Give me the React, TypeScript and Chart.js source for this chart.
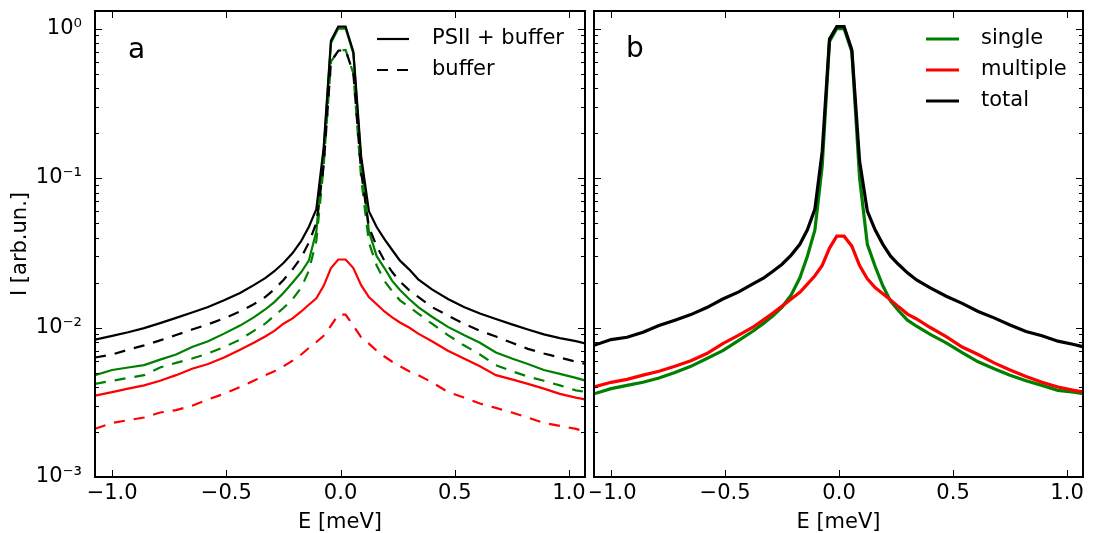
import React, { useEffect, useRef } from 'react';
import { Chart, registerables } from 'chart.js';

Chart.register(...registerables);

// ---------------- data ----------------
const E = [-1.075, -1.0, -0.93, -0.86, -0.79, -0.72, -0.65, -0.58, -0.51, -0.44, -0.38, -0.33, -0.29, -0.25, -0.21, -0.172, -0.139, -0.106, -0.074, -0.042, -0.010, 0.022, 0.056, 0.090, 0.124, 0.158, 0.192, 0.226, 0.26, 0.30, 0.34, 0.40, 0.47, 0.54, 0.61, 0.68, 0.75, 0.82, 0.89, 0.96, 1.03, 1.075];

// panel a
const aPsiiBuffer = [0.0083, 0.0088, 0.0093, 0.0099, 0.0107, 0.0116, 0.0126, 0.0137, 0.0152, 0.0170, 0.0192, 0.0214, 0.0238, 0.0270, 0.0315, 0.0380, 0.047, 0.062, 0.16, 0.83, 1.03, 1.03, 0.70, 0.14, 0.060, 0.047, 0.039, 0.033, 0.028, 0.0245, 0.0210, 0.0180, 0.0155, 0.0137, 0.0124, 0.0114, 0.0105, 0.0097, 0.0090, 0.0085, 0.0081, 0.0078];
const aBuffer = [0.0063, 0.0066, 0.0071, 0.0076, 0.0082, 0.0089, 0.0097, 0.0105, 0.0115, 0.0128, 0.0143, 0.0160, 0.0180, 0.0208, 0.0245, 0.0295, 0.037, 0.050, 0.12, 0.60, 0.71, 0.72, 0.50, 0.11, 0.047, 0.035, 0.028, 0.0235, 0.0203, 0.0178, 0.0160, 0.0137, 0.0120, 0.0106, 0.0095, 0.0087, 0.0079, 0.0072, 0.0067, 0.0063, 0.0059, 0.0057];
const aSingleSample = [0.0048, 0.0052, 0.0054, 0.0056, 0.0061, 0.0066, 0.0074, 0.0081, 0.0091, 0.0103, 0.0117, 0.0132, 0.0148, 0.0170, 0.0200, 0.0235, 0.028, 0.044, 0.15, 0.80, 1.0, 1.0, 0.68, 0.13, 0.044, 0.030, 0.025, 0.0205, 0.0178, 0.0155, 0.0137, 0.0118, 0.0101, 0.0089, 0.0079, 0.0068, 0.0062, 0.0057, 0.0052, 0.0049, 0.0046, 0.0044];
const aSingleBuffer = [0.0042, 0.0044, 0.0046, 0.0048, 0.0054, 0.0058, 0.0062, 0.0067, 0.0074, 0.0083, 0.0095, 0.0106, 0.0120, 0.0135, 0.0155, 0.0185, 0.024, 0.038, 0.12, 0.60, 0.71, 0.72, 0.50, 0.10, 0.037, 0.026, 0.0205, 0.0175, 0.0152, 0.0137, 0.0124, 0.0106, 0.0089, 0.0076, 0.0066, 0.0056, 0.0051, 0.0047, 0.0044, 0.0041, 0.0038, 0.0037];
const aMultipleSample = [0.0035, 0.0037, 0.0039, 0.0041, 0.0044, 0.0048, 0.0053, 0.0057, 0.0063, 0.0071, 0.0079, 0.0087, 0.0095, 0.0106, 0.0115, 0.0128, 0.0142, 0.0157, 0.0190, 0.0250, 0.0285, 0.0285, 0.0250, 0.0192, 0.0160, 0.0143, 0.0128, 0.0117, 0.0108, 0.0100, 0.0091, 0.0081, 0.0070, 0.0062, 0.0055, 0.0048, 0.0045, 0.0042, 0.0039, 0.0036, 0.0034, 0.0033];
const aMultipleBuffer = [0.0021, 0.0023, 0.0024, 0.0025, 0.0027, 0.0028, 0.0030, 0.0033, 0.0036, 0.0040, 0.0044, 0.0048, 0.0051, 0.0055, 0.0060, 0.0066, 0.0073, 0.0080, 0.0088, 0.0103, 0.0122, 0.0122, 0.0103, 0.0086, 0.0078, 0.0070, 0.0064, 0.0059, 0.0055, 0.0051, 0.0048, 0.0043, 0.0037, 0.0034, 0.0031, 0.0029, 0.0027, 0.0025, 0.0023, 0.0022, 0.0021, 0.0020];

// panel b
const bTotal = [0.0076, 0.0083, 0.0086, 0.0093, 0.0103, 0.0112, 0.0122, 0.0136, 0.0155, 0.0173, 0.0195, 0.0215, 0.0238, 0.0265, 0.0305, 0.0360, 0.045, 0.062, 0.15, 0.85, 1.03, 1.03, 0.72, 0.13, 0.060, 0.045, 0.036, 0.030, 0.0265, 0.0232, 0.0208, 0.0184, 0.0162, 0.0145, 0.0128, 0.0116, 0.0104, 0.0094, 0.0088, 0.0081, 0.0077, 0.0074];
const bSingle = [0.0036, 0.0039, 0.0041, 0.0043, 0.0046, 0.0050, 0.0055, 0.0062, 0.0070, 0.0082, 0.0094, 0.0107, 0.0120, 0.0137, 0.0165, 0.0215, 0.030, 0.045, 0.12, 0.82, 1.0, 1.0, 0.70, 0.10, 0.036, 0.0257, 0.0190, 0.0150, 0.0130, 0.0112, 0.0102, 0.0090, 0.0079, 0.0068, 0.0059, 0.0053, 0.0048, 0.0044, 0.0041, 0.0038, 0.0037, 0.0036];
const bMultiple = [0.0040, 0.0043, 0.0045, 0.0048, 0.0051, 0.0055, 0.0060, 0.0067, 0.0078, 0.0089, 0.0100, 0.0113, 0.0125, 0.0139, 0.0155, 0.0172, 0.0195, 0.0222, 0.026, 0.034, 0.0408, 0.0408, 0.035, 0.026, 0.0212, 0.0185, 0.0168, 0.0153, 0.0138, 0.0123, 0.0114, 0.0100, 0.0087, 0.0074, 0.0066, 0.0058, 0.0052, 0.0047, 0.0043, 0.0040, 0.0038, 0.0037];

const X_TICKS = [-1.0, -0.5, 0.0, 0.5, 1.0];
const Y_TICKS = [0.001, 0.01, 0.1, 1];
const Y_TICK_LABELS = ['10⁻³', '10⁻²', '10⁻¹', '10⁰'];
const X_MIN = -1.075;
const X_MAX = 1.07;
const Y_MIN = 0.001;
const Y_MAX = 1.31;

// ---------------- style ----------------
const FONT = "'DejaVu Sans', 'Liberation Sans', sans-serif";
const FS = 21;
const BLACK = '#000000';
const GREEN = '#008000';
const RED = '#ff0000';
const DASH = [11, 9];

const toPts = (ys: number[]) => E.map((e, i) => ({ x: e, y: ys[i] }));

const frameTicksPlugin = {
  id: 'frameTicks',
  afterDatasetsDraw(chart: any) {
    const { ctx, chartArea: ca, scales } = chart;
    const x = scales.x;
    const y = scales.y;
    ctx.save();
    ctx.strokeStyle = '#000';
    ctx.lineWidth = 1;
    ctx.setLineDash([]);
    ctx.beginPath();
    for (const t of X_TICKS) {
      const px = Math.round(x.getPixelForValue(t)) + 0.5;
      ctx.moveTo(px, ca.bottom);
      ctx.lineTo(px, ca.bottom - 7);
      ctx.moveTo(px, ca.top);
      ctx.lineTo(px, ca.top + 7);
    }
    for (let d = -3; d <= 0; d++) {
      for (let m = 1; m <= 9; m++) {
        const v = m * Math.pow(10, d);
        if (v < y.min - 1e-12 || v > y.max) continue;
        const py = Math.round(y.getPixelForValue(v)) + 0.5;
        const len = m === 1 ? 7 : 4;
        ctx.moveTo(ca.left, py);
        ctx.lineTo(ca.left + len, py);
        ctx.moveTo(ca.right, py);
        ctx.lineTo(ca.right - len, py);
      }
    }
    ctx.stroke();
    ctx.lineWidth = 2;
    ctx.strokeRect(ca.left, ca.top, ca.right - ca.left, ca.bottom - ca.top);
    ctx.restore();
  },
};

const decorPlugin = {
  id: 'decor',
  afterDraw(chart: any, _args: any, opts: any) {
    const { ctx, chartArea: ca } = chart;
    ctx.save();
    ctx.fillStyle = '#000';
    ctx.font = `28px ${FONT}`;
    ctx.textAlign = 'left';
    ctx.textBaseline = 'alphabetic';
    ctx.fillText(opts.letter, ca.left + opts.letterDx, ca.top + opts.letterDy);
    ctx.font = `${FS}px ${FONT}`;
    ctx.textBaseline = 'middle';
    (opts.items as number[]).forEach((idx, k) => {
      const ds = chart.data.datasets[idx];
      const yy = ca.top + opts.legendTop + k * opts.legendStep;
      const x0 = ca.right - opts.lineFromRight;
      ctx.strokeStyle = ds.borderColor;
      ctx.lineWidth = opts.legendLineWidth;
      ctx.lineCap = 'butt';
      ctx.setLineDash(ds.borderDash ? ds.borderDash : []);
      ctx.beginPath();
      ctx.moveTo(x0, yy);
      ctx.lineTo(x0 + opts.lineLen, yy);
      ctx.stroke();
      ctx.setLineDash([]);
      ctx.fillStyle = '#000';
      ctx.fillText(ds.label, x0 + opts.textGap, yy);
    });
    ctx.restore();
  },
};

const fmtX = (v: number) => {
  const s = Math.abs(v).toFixed(1);
  return v < -1e-9 ? '\u2212' + s : s;
};

function makeConfig(datasets: any[], showY: boolean, padding: any, decor: any) {
  return {
    type: 'line',
    data: { datasets },
    plugins: [frameTicksPlugin, decorPlugin],
    options: {
      animation: false,
      responsive: false,
      maintainAspectRatio: false,
      layout: { padding },
      elements: { point: { radius: 0 }, line: { tension: 0 } },
      plugins: {
        legend: { display: false },
        tooltip: { enabled: false },
        decor,
      },
      scales: {
        x: {
          type: 'linear',
          min: X_MIN,
          max: X_MAX,
          bounds: 'data',
          grid: { display: false, drawTicks: false },
          border: { display: false },
          afterBuildTicks: (s: any) => {
            s.ticks = X_TICKS.map((v) => ({ value: v }));
          },
          afterFit: (s: any) => {
            s.height = 56;
            s.paddingLeft = 0;
            s.paddingRight = 0;
          },
          ticks: {
            padding: 4,
            maxRotation: 0,
            autoSkip: false,
            color: '#000',
            font: { size: FS, family: FONT },
            callback: (v: any) => fmtX(Number(v)),
          },
          title: {
            display: true,
            text: 'E [meV]',
            color: '#000',
            font: { size: FS, family: FONT, lineHeight: 1 },
            padding: { top: 0, bottom: 0 },
          },
        },
        y: {
          type: 'logarithmic',
          display: showY,
          min: Y_MIN,
          max: Y_MAX,
          bounds: 'data',
          grid: { display: false, drawTicks: false },
          border: { display: false },
          afterBuildTicks: (s: any) => {
            s.ticks = Y_TICKS.map((v) => ({ value: v }));
          },
          afterFit: (s: any) => {
            s.width = showY ? 95 : 0;
            s.paddingTop = 0;
            s.paddingBottom = 0;
          },
          ticks: {
            padding: 13,
            autoSkip: false,
            color: '#000',
            font: { size: FS, family: FONT },
            callback: (v: any) => {
              const i = Y_TICKS.findIndex((t) => Math.abs(Math.log10(t) - Math.log10(Number(v))) < 1e-6);
              return i >= 0 ? Y_TICK_LABELS[i] : '';
            },
          },
          title: {
            display: true,
            text: 'I [arb.un.]',
            color: '#000',
            font: { size: FS, family: FONT, lineHeight: 1 },
            padding: { top: 10, bottom: 0 },
          },
        },
      },
    },
  } as any;
}

const LW_A = 2.2;
const LW_B = 3.2;

function ChartCanvas({ config, width, height, left }: { config: any; width: number; height: number; left: number }) {
  const ref = useRef<HTMLCanvasElement | null>(null);
  useEffect(() => {
    if (!ref.current) return;
    const chart = new Chart(ref.current, config);
    return () => chart.destroy();
  }, []);
  return (
    <canvas
      ref={ref}
      width={width}
      height={height}
      style={{ position: 'absolute', left, top: 0, width, height }}
    />
  );
}

export default function App() {
  Chart.defaults.font.family = FONT;

  const leftDatasets = [
    { label: 'PSII + buffer', data: toPts(aPsiiBuffer), borderColor: BLACK, borderWidth: LW_A },
    { label: 'buffer', data: toPts(aBuffer), borderColor: BLACK, borderWidth: LW_A, borderDash: DASH },
    { label: 'single (PSII + buffer)', data: toPts(aSingleSample), borderColor: GREEN, borderWidth: LW_A },
    { label: 'single (buffer)', data: toPts(aSingleBuffer), borderColor: GREEN, borderWidth: LW_A, borderDash: DASH },
    { label: 'multiple (PSII + buffer)', data: toPts(aMultipleSample), borderColor: RED, borderWidth: LW_A },
    { label: 'multiple (buffer)', data: toPts(aMultipleBuffer), borderColor: RED, borderWidth: LW_A, borderDash: DASH },
  ];
  const rightDatasets = [
    { label: 'total', data: toPts(bTotal), borderColor: BLACK, borderWidth: LW_B },
    { label: 'multiple', data: toPts(bMultiple), borderColor: RED, borderWidth: LW_B },
    { label: 'single', data: toPts(bSingle), borderColor: GREEN, borderWidth: LW_B },
  ];

  const leftConfig = makeConfig(
    leftDatasets,
    true,
    { top: 11, right: 5, left: 0, bottom: 0 },
    {
      letter: 'a', letterDx: 33, letterDy: 47,
      items: [0, 1], legendTop: 28, legendStep: 31,
      lineFromRight: 208, lineLen: 32, textGap: 55, legendLineWidth: 2.2,
    }
  );
  const rightConfig = makeConfig(
    rightDatasets,
    false,
    { top: 11, right: 11, left: 4, bottom: 0 },
    {
      letter: 'b', letterDx: 32, letterDy: 46,
      items: [2, 1, 0], legendTop: 28, legendStep: 31,
      lineFromRight: 157, lineLen: 33, textGap: 55, legendLineWidth: 3.2,
    }
  );

  return (
    <div style={{ position: 'absolute', left: 0, top: 0, width: 1094, height: 533, background: '#fff', overflow: 'hidden' }}>
      <ChartCanvas config={leftConfig} width={590} height={533} left={0} />
      <ChartCanvas config={rightConfig} width={504} height={533} left={590} />
    </div>
  );
}
